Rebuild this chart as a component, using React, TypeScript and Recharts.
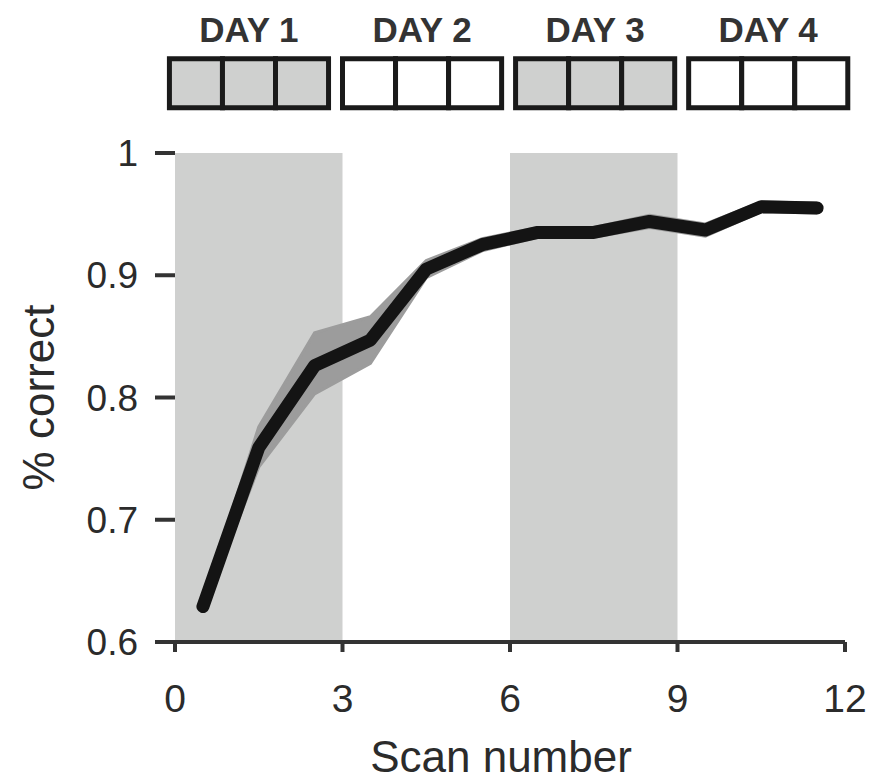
import React from "react";
import {
  ComposedChart,
  Line,
  Area,
  XAxis,
  YAxis,
  ReferenceArea,
} from "recharts";

/* =======================
   Data
======================= */
const scans = [0.5, 1.5, 2.5, 3.5, 4.5, 5.5, 6.5, 7.5, 8.5, 9.5, 10.5, 11.5];
const meanCorrect = [0.629, 0.759, 0.826, 0.847, 0.905, 0.925, 0.935, 0.935, 0.944, 0.937, 0.956, 0.955];
const lowerCorrect = [0.625, 0.743, 0.803, 0.828, 0.898, 0.92, 0.931, 0.931, 0.939, 0.932, 0.952, 0.951];
const upperCorrect = [0.633, 0.776, 0.853, 0.866, 0.912, 0.93, 0.939, 0.939, 0.949, 0.942, 0.96, 0.959];

const dayLabels = ["DAY 1", "DAY 2", "DAY 3", "DAY 4"];
const dayShaded = [true, false, true, false];
const scansPerDay = 3;

const xTicks = [0, 3, 6, 9, 12];
const yTicks = [0.6, 0.7, 0.8, 0.9, 1];

/* =======================
   Layout / style constants
======================= */
const FONT = "'Liberation Sans', Arial, Helvetica, sans-serif";
const INK = "#2b2b2b";
const SHADE = "#cfd0cf";
const BAND = "#9c9c9c";

// header strip (drawn in data coordinates, above the plot)
const HEADER_X0 = -0.1;
const GROUP_STEP = 3.1;
const CELL_W = 0.95;
const HEADER_Y_BOTTOM = 1.037;
const HEADER_Y_TOP = 1.077;

const chartData = scans.map((s, i) => ({
  scan: s,
  mean: meanCorrect[i],
  band: [lowerCorrect[i], upperCorrect[i]],
}));

/* =======================
   Axis titles
======================= */
const YTitle = (props: any) => {
  const vb = props.viewBox || {};
  const cx = (vb.x ?? 0) + 38;
  const cy = (vb.y ?? 0) + (vb.height ?? 0) / 2;
  return (
    <text
      x={cx}
      y={cy}
      transform={`rotate(-90 ${cx} ${cy})`}
      textAnchor="middle"
      dominantBaseline="central"
      fontFamily={FONT}
      fontSize={44}
      fill={INK}
    >
      % correct
    </text>
  );
};

const XTitle = (props: any) => {
  const vb = props.viewBox || {};
  const cx = (vb.x ?? 0) + (vb.width ?? 0) / 2 - 9;
  return (
    <text x={cx} y={772} textAnchor="middle" fontFamily={FONT} fontSize={44} fill={INK}>
      Scan number
    </text>
  );
};

export default function App() {
  return (
    <div style={{ position: "absolute", left: 0, top: 0, width: 870, height: 780, background: "#fff" }}>
      <ComposedChart
        width={870}
        height={780}
        data={chartData}
        margin={{ top: 153, right: 25, bottom: 0, left: 0 }}
      >
        {/* ---------- shaded day backgrounds ---------- */}
        {dayShaded.map((shaded, d) =>
          shaded ? (
            <ReferenceArea
              key={`shade-${d}`}
              x1={d * scansPerDay}
              x2={(d + 1) * scansPerDay}
              y1={0.6}
              y2={1}
              fill={SHADE}
              fillOpacity={1}
              stroke="none"
            />
          ) : null
        )}

        {/* ---------- header strip ---------- */}
        {dayLabels.map((label, d) =>
          Array.from({ length: scansPerDay }).map((_, j) => {
            const x1 = HEADER_X0 + d * GROUP_STEP + j * CELL_W;
            return (
              <ReferenceArea
                key={`cell-${d}-${j}`}
                x1={x1}
                x2={x1 + CELL_W}
                y1={HEADER_Y_BOTTOM}
                y2={HEADER_Y_TOP}
                ifOverflow="visible"
                fill={dayShaded[d] ? SHADE : "#fff"}
                fillOpacity={1}
                stroke="#1a1a1a"
                strokeWidth={5}
              />
            );
          })
        )}
        {dayLabels.map((label, d) => {
          const x1 = HEADER_X0 + d * GROUP_STEP;
          return (
            <ReferenceArea
              key={`label-${d}`}
              x1={x1}
              x2={x1 + CELL_W * scansPerDay}
              y1={HEADER_Y_BOTTOM}
              y2={HEADER_Y_TOP}
              ifOverflow="visible"
              fill="none"
              fillOpacity={0}
              stroke="none"
              label={{
                value: label,
                position: "top",
                offset: 17,
                fontFamily: FONT,
                fontSize: 35,
                fontWeight: 700,
                fill: "#333",
              }}
            />
          );
        })}

        <XAxis
          dataKey="scan"
          type="number"
          domain={[0, 12]}
          ticks={xTicks}
          interval={0}
          height={138}
          axisLine={{ stroke: "#333", strokeWidth: 4 }}
          tickLine={{ stroke: "#333", strokeWidth: 4 }}
          tickSize={10}
          tickMargin={32}
          tick={{ fontFamily: FONT, fontSize: 39, fill: INK }}
          label={{ content: XTitle }}
        />
        <YAxis
          type="number"
          domain={[0.6, 1]}
          ticks={yTicks}
          interval={0}
          width={175}
          axisLine={false}
          tickLine={{ stroke: "#333", strokeWidth: 4 }}
          tickSize={20}
          tickMargin={17}
          tickFormatter={(v: number) => (v === 1 ? "1" : v.toFixed(1))}
          tick={{ fontFamily: FONT, fontSize: 37, fill: INK }}
          label={{ content: YTitle }}
        />

        {/* ---------- error band + mean ---------- */}
        <Area
          type="linear"
          dataKey="band"
          fill={BAND}
          fillOpacity={1}
          stroke={BAND}
          strokeWidth={3}
          isAnimationActive={false}
          activeDot={false}
        />
        <Line
          type="linear"
          dataKey="mean"
          stroke="#141414"
          strokeWidth={13}
          strokeLinecap="round"
          strokeLinejoin="round"
          dot={false}
          activeDot={false}
          isAnimationActive={false}
        />
      </ComposedChart>
    </div>
  );
}
